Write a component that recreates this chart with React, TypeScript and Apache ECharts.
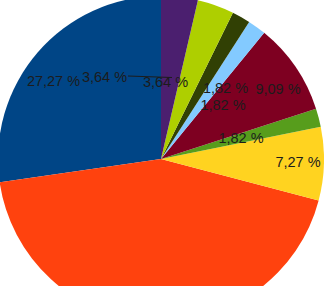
import React, { useEffect, useRef } from "react";
import * as echarts from "echarts";

const categories = ["A", "B", "C", "D", "E", "F", "G", "H", "I"];
const values = [15, 24, 4, 1, 5, 1, 1, 2, 2];
const colors = ["#004586", "#ff420e", "#ffd320", "#579d1c", "#7e0021", "#83caff", "#314004", "#aecf00", "#4b1f6f"];
// label anchor points (px) as placed in the reference
const labelPos: (number[] | null)[] = [
  [53.5, 80.5],
  null,
  [298, 162],
  [241, 137.5],
  [278, 89],
  [223, 105],
  [225.5, 88],
  [165.5, 81.5],
  [104.5, 77],
];

export default function App() {
  const ref = useRef<HTMLDivElement>(null);
  useEffect(() => {
    document.body.style.margin = "0";
    const chart = echarts.init(ref.current!, undefined, { renderer: "svg" });
    chart.setOption({
      animation: false,
      graphic: [
        {
          type: "line",
          shape: { x1: 128, y1: 76, x2: 172, y2: 77.5 },
          style: { stroke: "#1c1c1c", lineWidth: 1 },
          z: 100,
        },
      ],
      series: [
        {
          type: "pie",
          center: [161, 159],
          radius: [0, 163],
          startAngle: 90,
          clockwise: false,
          avoidLabelOverlap: false,
          itemStyle: { borderWidth: 0 },
          label: {
            show: true,
            position: "inside",
            color: "#1c1c1c",
            fontFamily: "Liberation Sans",
            fontSize: 14.5,
            formatter: (p: any) => p.percent.toFixed(2).replace(".", ",") + " %",
          },
          labelLine: { show: false },
          labelLayout: (params: any) => {
            const pos = labelPos[params.dataIndex];
            if (!pos) return {};
            return { x: pos[0], y: pos[1], align: "center", verticalAlign: "middle" };
          },
          emphasis: { disabled: true },
          data: categories.map((c, i) => ({
            name: c,
            value: values[i],
            itemStyle: { color: colors[i] },
            label: { show: labelPos[i] !== null },
          })),
        },
      ],
    });
    return () => chart.dispose();
  }, []);
  return <div ref={ref} style={{ width: 324, height: 286 }} />;
}
